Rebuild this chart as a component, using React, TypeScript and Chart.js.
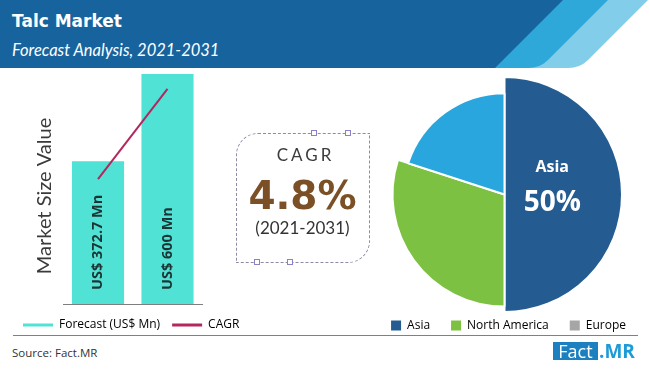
import React, { useEffect, useRef } from 'react';
import { Chart, registerables } from 'chart.js';

Chart.register(...registerables);

// ---------------- data ----------------
const years = ['2021', '2031'];
const marketSize = [372.7, 600];
const marketSizeLabels = ['US$ 372.7 Mn', 'US$ 600 Mn'];
const cagrTrend = [326, 561];
const seriesNames = ['Forecast (US$ Mn)', 'CAGR'];
const regions = ['Asia', 'North America', 'Europe'];
const regionShare = [50, 30, 20];
const highlightLabel = '50%';
const cagrValue = '4.8%';
const cagrPeriod = '(2021-2031)';

// ---------------- styles ----------------
const BAR_COLOR = '#50e2d4';
const LINE_COLOR = '#b2275f';
const sliceColors = ['#245c91', '#7cc142', '#29a6de'];
const legendColors = ['#245c91', '#7cc142', '#a6a6a6'];
const sliceRadiusFactor = [1, 0.953, 0.862];
const UI_FONT = "'Open Sans', 'Noto Sans', sans-serif";
const GEO_FONT = "Lato, 'Noto Sans', sans-serif";

function BarChart() {
  const ref = useRef<HTMLCanvasElement>(null);
  useEffect(() => {
    const canvas = ref.current!;
    const barLabelPlugin = {
      id: 'barValueLabels',
      afterDatasetsDraw(chart: any) {
        const ctx = chart.ctx;
        const meta = chart.getDatasetMeta(0);
        const base = chart.scales.y.getPixelForValue(0);
        ctx.save();
        ctx.font = `bold 14.5px ${UI_FONT}`;
        ctx.fillStyle = '#1d3434';
        ctx.textAlign = 'left';
        ctx.textBaseline = 'middle';
        meta.data.forEach((bar: any, i: number) => {
          ctx.save();
          ctx.translate(bar.x, base - 14);
          ctx.rotate(-Math.PI / 2);
          ctx.fillText(marketSizeLabels[i], 0, 0);
          ctx.restore();
        });
        ctx.restore();
      },
    };
    const axisTitlePlugin = {
      id: 'axisTitle',
      afterDraw(chart: any) {
        const ctx = chart.ctx;
        const ca = chart.chartArea;
        ctx.save();
        ctx.font = `20px ${GEO_FONT}`;
        ctx.fillStyle = '#3a3a3a';
        ctx.textAlign = 'center';
        ctx.textBaseline = 'middle';
        ctx.translate(chart.scales.y.left + 34, (ca.top + ca.bottom) / 2 + 7);
        ctx.rotate(-Math.PI / 2);
        ctx.fillText('Market Size Value', 0, 0);
        ctx.restore();
      },
    };
    const chart = new Chart(canvas, {
      type: 'bar',
      data: {
        labels: years,
        datasets: [
          {
            type: 'bar',
            label: seriesNames[0],
            data: marketSize,
            backgroundColor: BAR_COLOR,
            barPercentage: 0.75,
            categoryPercentage: 1,
            order: 1,
          } as any,
          {
            type: 'line',
            label: seriesNames[1],
            data: cagrTrend,
            borderColor: LINE_COLOR,
            borderWidth: 2,
            pointRadius: 0,
            fill: false,
            tension: 0,
            order: 0,
          } as any,
        ],
      },
      options: {
        responsive: false,
        animation: false,
        layout: { padding: { left: 11, right: 0, top: 14, bottom: 0 } },
        plugins: {
          tooltip: { enabled: false },
          legend: {
            position: 'bottom',
            align: 'start',
            labels: {
              boxWidth: 30,
              boxHeight: 3,
              padding: 12,
              color: '#222',
              font: { size: 12, family: UI_FONT },
              generateLabels: () =>
                seriesNames.map((name, i) => ({
                  text: name,
                  fillStyle: i === 0 ? BAR_COLOR : LINE_COLOR,
                  strokeStyle: i === 0 ? BAR_COLOR : LINE_COLOR,
                  lineWidth: 0,
                  hidden: false,
                  datasetIndex: i,
                })),
            },
          },
        },
        scales: {
          x: {
            type: 'category',
            offset: true,
            grid: { display: false, drawTicks: false },
            border: { display: true, color: '#7f7f7f', width: 1 },
            ticks: { color: '#333', font: { size: 12, family: UI_FONT }, padding: 3 },
            afterFit: (s: any) => { s.height = 3; },
          },
          y: {
            min: 0,
            max: 600,
            position: 'left',
            grid: { display: false, drawTicks: false },
            border: { display: false },
            ticks: { display: false },
            afterFit: (s: any) => { s.width = 52.25; },
          },
          spacer: {
            type: 'linear',
            position: 'right',
            grid: { display: false, drawTicks: false },
            border: { display: false },
            ticks: { display: false },
            afterFit: (s: any) => { s.width = 62.75; },
          },
        } as any,
      },
      plugins: [barLabelPlugin, axisTitlePlugin],
    } as any);
    return () => chart.destroy();
  }, []);
  return (
    <canvas
      ref={ref}
      width={265}
      height={281}
      style={{ position: 'absolute', left: 0, top: 60, width: 265, height: 281 }}
    />
  );
}

function PieChart() {
  const ref = useRef<HTMLCanvasElement>(null);
  useEffect(() => {
    const canvas = ref.current!;
    const sliceRadiusPlugin = {
      id: 'sliceRadius',
      afterDatasetUpdate(chart: any, args: any) {
        const meta = chart.getDatasetMeta(args.index);
        const base = meta.controller.outerRadius;
        meta.data.forEach((arc: any, i: number) => {
          arc.outerRadius = base * sliceRadiusFactor[i];
        });
      },
    };
    const sliceLabelPlugin = {
      id: 'sliceLabel',
      afterDatasetsDraw(chart: any) {
        const ctx = chart.ctx;
        const arc = chart.getDatasetMeta(0).data[0];
        const p = arc.tooltipPosition();
        ctx.save();
        ctx.fillStyle = '#ffffff';
        ctx.textAlign = 'center';
        ctx.textBaseline = 'middle';
        ctx.font = `bold 16px ${UI_FONT}`;
        ctx.fillText(regions[0], p.x - 11, p.y - 27);
        ctx.font = `bold 28px ${UI_FONT}`;
        ctx.fillText(highlightLabel, p.x - 11, p.y + 9);
        ctx.restore();
      },
    };
    const chart = new Chart(canvas, {
      type: 'pie',
      data: {
        labels: regions,
        datasets: [
          {
            data: regionShare,
            backgroundColor: sliceColors,
            borderColor: '#ffffff',
            borderWidth: 2,
          },
        ],
      },
      options: {
        responsive: false,
        animation: false,
        radius: 117.5,
        layout: { padding: { top: 20.5, bottom: 0.5, left: 0, right: 0 } },
        plugins: {
          tooltip: { enabled: false },
          legend: {
            position: 'bottom',
            align: 'end',
            labels: {
              boxWidth: 10,
              boxHeight: 10,
              padding: 21,
              color: '#222',
              font: { size: 12, family: UI_FONT },
              generateLabels: () =>
                regions.map((r, i) => ({
                  text: r,
                  fillStyle: legendColors[i],
                  strokeStyle: legendColors[i],
                  lineWidth: 0,
                  hidden: false,
                  index: i,
                })),
            },
          },
        },
      } as any,
      plugins: [sliceRadiusPlugin, sliceLabelPlugin],
    } as any);
    return () => chart.destroy();
  }, []);
  return (
    <canvas
      ref={ref}
      width={285}
      height={272}
      style={{ position: 'absolute', left: 362, top: 70, width: 285, height: 272 }}
    />
  );
}

function Header() {
  return (
    <div style={{ position: 'absolute', left: 0, top: 0, width: 650, height: 68 }}>
      <svg width={650} height={68} style={{ position: 'absolute', left: 0, top: 0 }}>
        <path d="M0 0 H648 L588 60 Q580 68 568 68 H0 Z" fill="#82cdea" />
        <path d="M0 0 H608 L548 60 Q540 68 528 68 H0 Z" fill="#2ea7d9" />
        <path d="M0 0 H563 L495 68 H0 Z" fill="#17639e" />
      </svg>
      <div
        style={{
          position: 'absolute', left: 12, top: 9, lineHeight: '24px', fontSize: 17,
          fontWeight: 'bold', color: '#fff', fontFamily: "'DejaVu Sans', sans-serif", whiteSpace: 'nowrap',
        }}
      >
        Talc Market
      </div>
      <div
        style={{
          position: 'absolute', left: 12, top: 39, lineHeight: '22px', fontSize: 16.5,
          fontStyle: 'italic', color: '#fff', fontFamily: GEO_FONT, whiteSpace: 'nowrap',
        }}
      >
        Forecast Analysis, 2021-2031
      </div>
    </div>
  );
}

function Handle({ cx, cy }: { cx: number; cy: number }) {
  return (
    <div
      style={{
        position: 'absolute', left: cx - 3, top: cy - 3, width: 6, height: 6,
        boxSizing: 'border-box', border: '1px solid #8d80c4', background: '#fff',
      }}
    />
  );
}

function CagrBox() {
  const center = { position: 'absolute' as const, left: 236, width: 133, textAlign: 'center' as const, whiteSpace: 'nowrap' as const };
  return (
    <>
      <div
        style={{
          position: 'absolute', left: 236, top: 133, width: 134, height: 130, boxSizing: 'border-box',
          border: '1px dashed #8e8aa4', borderRadius: '22px 0 22px 0',
        }}
      />
      <Handle cx={314} cy={133} />
      <Handle cx={348} cy={133} />
      <Handle cx={257} cy={262} />
      <Handle cx={290} cy={262} />
      <div style={{ ...center, top: 144, lineHeight: '22px', fontSize: 17, letterSpacing: 3, paddingLeft: 3, color: '#3b3b3b', fontFamily: GEO_FONT }}>
        CAGR
      </div>
      <div style={{ ...center, top: 172, lineHeight: '48px', fontSize: 39, fontWeight: 'bold', color: '#7b5026', fontFamily: "'DejaVu Sans', sans-serif" }}>
        {cagrValue}
      </div>
      <div style={{ ...center, top: 217, lineHeight: '22px', fontSize: 17, color: '#333', fontFamily: GEO_FONT }}>
        {cagrPeriod}
      </div>
    </>
  );
}

function Footer() {
  return (
    <>
      <div style={{ position: 'absolute', left: 13, top: 335, width: 625, height: 1, background: '#808080' }} />
      <div style={{ position: 'absolute', left: 12, top: 345, lineHeight: '16px', fontSize: 11.5, color: '#333', fontFamily: UI_FONT }}>
        Source: Fact.MR
      </div>
      <div
        style={{
          position: 'absolute', left: 553, top: 342, width: 45, height: 18, background: '#1b7fc0',
          color: '#fff', fontSize: 18, lineHeight: '18px', textAlign: 'center', fontFamily: UI_FONT,
        }}
      >
        Fact
      </div>
      <div
        style={{
          position: 'absolute', left: 599, top: 341, lineHeight: '20px', fontSize: 19, fontWeight: 'bold',
          color: '#1c9bd7', fontFamily: UI_FONT,
        }}
      >
        .MR
      </div>
    </>
  );
}

export default function App() {
  return (
    <div style={{ position: 'absolute', left: 0, top: 0, width: 650, height: 372, overflow: 'hidden', background: '#fff' }}>
      <Header />
      <BarChart />
      <CagrBox />
      <PieChart />
      <Footer />
    </div>
  );
}
